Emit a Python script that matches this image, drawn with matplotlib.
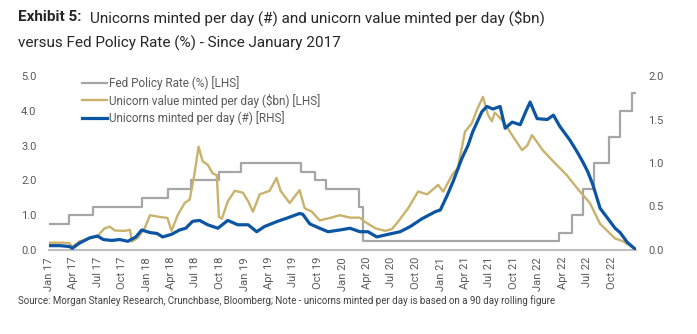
import matplotlib
matplotlib.use("Agg")
import matplotlib.pyplot as plt
import matplotlib.dates as mdates
from matplotlib.lines import Line2D
import pandas as pd

plt.rcParams['font.family'] = ['Roboto', 'DejaVu Sans']

# Fed policy rate, upper bound (%), step changes
fed_dates = ["2017-01-01", "2017-03-16", "2017-06-15", "2017-12-14", "2018-03-22",
             "2018-06-14", "2018-09-27", "2018-12-20", "2019-08-01", "2019-09-19",
             "2019-10-31", "2020-03-04", "2020-03-16", "2022-03-17", "2022-05-05",
             "2022-06-16", "2022-07-28", "2022-09-22", "2022-11-03", "2022-12-15",
             "2022-12-31"]
fed_rate = [0.75, 1.00, 1.25, 1.50, 1.75, 2.00, 2.25, 2.50, 2.25, 2.00,
            1.75, 1.25, 0.25, 0.50, 1.00, 1.75, 2.50, 3.25, 4.00, 4.50, 4.50]

# Unicorn value minted per day ($bn), LHS
value_dates = ["2017-01-01", "2017-02-11", "2017-03-18", "2017-03-29", "2017-04-25",
               "2017-06-02", "2017-07-01", "2017-07-27", "2017-08-15", "2017-09-04",
               "2017-10-11", "2017-10-30", "2017-11-06", "2017-11-28", "2017-12-24",
               "2018-01-13", "2018-02-18", "2018-03-19", "2018-04-03", "2018-04-26",
               "2018-05-22", "2018-06-10", "2018-06-28", "2018-07-13", "2018-07-28",
               "2018-08-16", "2018-09-04", "2018-09-19", "2018-09-27", "2018-10-08",
               "2018-10-30", "2018-11-25", "2018-12-25", "2019-01-14", "2019-02-01",
               "2019-02-26", "2019-04-04", "2019-04-30", "2019-05-15", "2019-06-18",
               "2019-07-25", "2019-08-13", "2019-09-09", "2019-10-08", "2019-11-15",
               "2019-12-22", "2020-01-29", "2020-03-06", "2020-03-24", "2020-05-04",
               "2020-06-08", "2020-07-03", "2020-07-26", "2020-09-02", "2020-10-09",
               "2020-11-12", "2020-12-23", "2021-01-11", "2021-02-13", "2021-03-06",
               "2021-04-02", "2021-04-28", "2021-05-16", "2021-06-08", "2021-06-27",
               "2021-07-11", "2021-07-22", "2021-08-22", "2021-09-25", "2021-11-01",
               "2021-11-20", "2021-12-08", "2022-01-19", "2022-03-03", "2022-04-17",
               "2022-05-28", "2022-07-12", "2022-08-19", "2022-09-15", "2022-10-14",
               "2022-11-13", "2022-12-28"]
value_bn = [0.21, 0.21, 0.20, 0.09, 0.25, 0.33, 0.40, 0.62, 0.67, 0.56,
            0.55, 0.58, 0.24, 0.35, 0.63, 1.00, 0.95, 0.92, 0.55, 1.00,
            1.35, 1.45, 2.20, 2.97, 2.55, 2.45, 2.20, 2.15, 0.95, 0.90,
            1.40, 1.70, 1.65, 1.40, 1.10, 1.60, 1.70, 2.07, 1.70, 1.35,
            1.72, 1.20, 1.10, 0.85, 0.92, 1.00, 0.93, 0.93, 0.81, 0.62,
            0.55, 0.60, 0.81, 1.20, 1.68, 1.60, 1.87, 1.68, 2.16, 2.35,
            3.40, 3.65, 4.02, 4.40, 3.88, 3.70, 3.95, 3.70, 3.30, 2.87,
            3.00, 3.30, 2.85, 2.50, 2.15, 1.75, 1.35, 0.75, 0.55, 0.33,
            0.25, 0.03]

# Unicorns minted per day (#), RHS
count_dates = ["2017-01-01", "2017-02-11", "2017-03-18", "2017-03-29", "2017-04-25",
               "2017-06-02", "2017-07-01", "2017-07-23", "2017-08-23", "2017-09-22",
               "2017-10-22", "2017-11-21", "2017-12-13", "2018-01-13", "2018-02-08",
               "2018-03-01", "2018-04-03", "2018-05-03", "2018-05-26", "2018-06-21",
               "2018-07-17", "2018-08-16", "2018-09-23", "2018-10-30", "2018-12-06",
               "2019-01-14", "2019-02-15", "2019-03-16", "2019-05-04", "2019-06-11",
               "2019-07-25", "2019-08-06", "2019-09-01", "2019-10-08", "2019-11-08",
               "2019-12-22", "2020-01-29", "2020-03-06", "2020-04-05", "2020-05-08",
               "2020-06-19", "2020-08-03", "2020-09-10", "2020-10-24", "2020-12-12",
               "2020-12-31", "2021-01-26", "2021-02-17", "2021-03-21", "2021-04-13",
               "2021-05-01", "2021-06-04", "2021-06-23", "2021-07-15", "2021-08-11",
               "2021-08-30", "2021-09-25", "2021-10-25", "2021-11-16", "2021-12-01",
               "2021-12-27", "2022-02-03", "2022-02-26", "2022-03-22", "2022-04-29",
               "2022-05-25", "2022-06-16", "2022-07-04", "2022-07-23", "2022-08-19",
               "2022-09-15", "2022-10-14", "2022-11-02", "2022-11-28", "2022-12-28"]
count_n = [0.05, 0.05, 0.04, 0.02, 0.08, 0.14, 0.16, 0.12, 0.11, 0.12,
           0.10, 0.15, 0.23, 0.20, 0.19, 0.15, 0.18, 0.23, 0.25, 0.33,
           0.34, 0.29, 0.25, 0.34, 0.29, 0.29, 0.21, 0.27, 0.33, 0.37,
           0.42, 0.41, 0.30, 0.25, 0.21, 0.23, 0.25, 0.21, 0.21, 0.15,
           0.18, 0.21, 0.27, 0.36, 0.44, 0.46, 0.63, 0.79, 1.05, 1.20,
           1.36, 1.59, 1.65, 1.62, 1.65, 1.40, 1.47, 1.44, 1.60, 1.70,
           1.51, 1.50, 1.55, 1.42, 1.26, 1.13, 1.01, 0.90, 0.75, 0.48,
           0.37, 0.25, 0.20, 0.09, 0.01]

tick_dates = pd.date_range("2017-01-01", "2022-10-01", freq="QS")

grey = "#a6a6a6"
gold = "#c8b26c"
blue = "#0b55a3"
text_col = "#595959"

fig = plt.figure(figsize=(6.97, 3.34), dpi=100)
ax = fig.add_axes([49 / 697, 1 - 250 / 334, 587 / 697, 174 / 334])
ax2 = ax.twinx()

ax.plot(pd.to_datetime(fed_dates), fed_rate, color=grey, lw=1.6, drawstyle="steps-post")
ax.plot(pd.to_datetime(value_dates), value_bn, color=gold, lw=1.7)
ax2.plot(pd.to_datetime(count_dates), count_n, color=blue, lw=2.3)

ax.set_xlim(pd.Timestamp("2017-01-01"), pd.Timestamp("2022-12-31"))
ax.set_ylim(0, 5)
ax2.set_ylim(0, 2)
ax.set_yticks([0, 1, 2, 3, 4, 5])
ax2.set_yticks([0, 0.5, 1.0, 1.5, 2.0])
ax.yaxis.set_major_formatter(plt.FormatStrFormatter("%.1f"))
ax2.yaxis.set_major_formatter(plt.FormatStrFormatter("%.1f"))
ax.set_xticks(tick_dates)
ax.xaxis.set_major_formatter(mdates.DateFormatter("%b %y"))

for a in (ax, ax2):
    for s in a.spines.values():
        s.set_visible(False)
ax.spines["bottom"].set_visible(True)
ax.spines["bottom"].set_color("#bfbfbf")
ax.spines["bottom"].set_linewidth(1.5)

ax.tick_params(axis="x", length=0, pad=5, labelsize=8, labelcolor=text_col, rotation=90)
ax.tick_params(axis="y", length=0, pad=9, labelsize=8, labelcolor=text_col)
ax2.tick_params(axis="y", length=0, pad=9, labelsize=8, labelcolor=text_col)

handles = [Line2D([], [], color=grey, lw=1.6),
           Line2D([], [], color=gold, lw=1.7),
           Line2D([], [], color=blue, lw=2.3)]
labels = ["Fed Policy Rate (%) [LHS]",
          "Unicorn value minted per day ($bn) [LHS]",
          "Unicorns minted per day (#) [RHS]"]
ax2.legend(handles, labels, loc="upper left", bbox_to_anchor=(82 / 697, 1 - 76 / 334),
           bbox_transform=fig.transFigure, frameon=False, fontsize=8.5,
           handlelength=2.1, handletextpad=0.15, labelspacing=0.3,
           borderpad=0, borderaxespad=0, labelcolor=text_col)

# title in two parts: bold label then regular text
renderer = fig.canvas.get_renderer()
t1 = fig.text(18 / 697, 1 - 10 / 334, "Exhibit 5:", fontsize=11, fontweight="bold",
              color="#262626", va="top")
bb = t1.get_window_extent(renderer=renderer)
fig.text((bb.x1 + 8) / 697, 1 - 10 / 334,
         "Unicorns minted per day (#) and unicorn value minted per day ($bn)",
         fontsize=11, color="#262626", va="top")
fig.text(18 / 697, 1 - 36 / 334, "versus Fed Policy Rate (%) - Since January 2017",
         fontsize=11, color="#262626", va="top")

fig.text(18 / 697, 1 - 301 / 334,
         "Source: Morgan Stanley Research, Crunchbase, Bloomberg; Note - unicorns minted per day "
         "is based on a 90 day rolling figure",
         fontsize=7, color="#404040", va="center")

fig.savefig("out.png", dpi=100)
